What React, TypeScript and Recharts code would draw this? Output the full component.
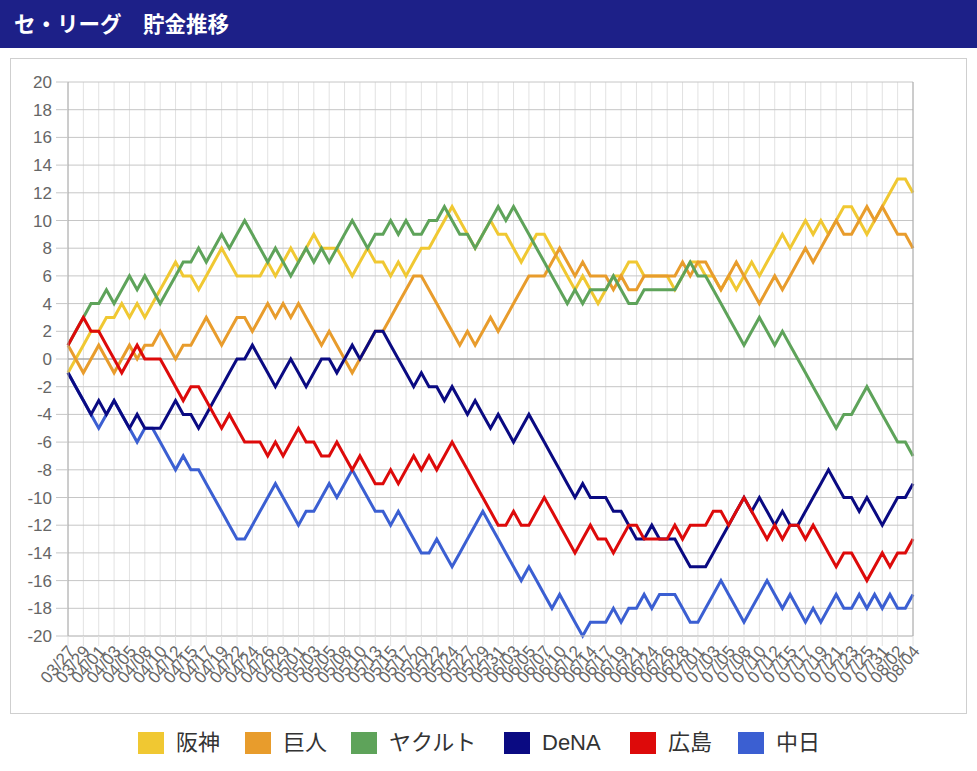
import React from "react";
import { LineChart, Line, XAxis, YAxis, CartesianGrid, ReferenceLine } from "recharts";

const dates = [
  "03/27","03/28","03/29","03/31","04/01","04/02","04/03","04/04","04/05","04/07",
  "04/08","04/09","04/10","04/11","04/12","04/14","04/15","04/16","04/17","04/18",
  "04/19","04/21","04/22","04/23","04/24","04/25","04/26","04/28","04/29","04/30",
  "05/01","05/02","05/03","05/04","05/05","05/06","05/08","05/09","05/10","05/12",
  "05/13","05/14","05/15","05/16","05/17","05/19","05/20","05/21","05/22","05/23",
  "05/24","05/26","05/27","05/28","05/29","05/30","05/31","06/02","06/03","06/04",
  "06/05","06/06","06/07","06/09","06/10","06/11","06/12","06/13","06/14","06/16",
  "06/17","06/18","06/19","06/20","06/21","06/23","06/24","06/25","06/26","06/27",
  "06/28","06/30","07/01","07/02","07/03","07/04","07/05","07/07","07/08","07/09",
  "07/10","07/11","07/12","07/14","07/15","07/16","07/17","07/18","07/19","07/20",
  "07/21","07/22","07/23","07/24","07/25","07/26","07/31","08/01","08/02","08/03","08/04",
];

const hanshin = [
  -1,0,1,2,2,3,3,4,3,4,
  3,4,5,6,7,6,6,5,6,7,
  8,7,6,6,6,6,7,6,7,8,
  7,8,9,8,8,8,7,6,7,8,
  7,7,6,7,6,7,8,8,9,10,
  11,10,9,8,9,10,9,9,8,7,
  8,9,9,8,7,6,5,6,5,4,
  5,6,6,7,7,6,6,6,6,5,
  6,7,7,6,6,5,6,5,6,7,
  6,7,8,9,8,9,10,9,10,9,
  10,11,11,10,9,10,11,12,13,13,12,
];

const giants = [
  1,0,-1,0,1,0,-1,0,1,0,
  1,1,2,1,0,1,1,2,3,2,
  1,2,3,3,2,3,4,3,4,3,
  4,3,2,1,2,1,0,-1,0,1,
  2,2,3,4,5,6,6,5,4,3,
  2,1,2,1,2,3,2,3,4,5,
  6,6,6,7,8,7,6,7,6,6,
  6,5,6,5,5,6,6,6,6,6,
  7,6,7,7,6,5,6,7,6,5,
  4,5,6,5,6,7,8,7,8,9,
  10,9,9,10,11,10,11,10,9,9,8,
];

const yakult = [
  1,2,3,4,4,5,4,5,6,5,
  6,5,4,5,6,7,7,8,7,8,
  9,8,9,10,9,8,7,8,7,6,
  7,8,7,8,7,8,9,10,9,8,
  9,9,10,9,10,9,9,10,10,11,
  10,9,9,8,9,10,11,10,11,10,
  9,8,7,6,5,4,5,4,5,5,
  5,6,5,4,4,5,5,5,5,5,
  6,7,6,6,5,4,3,2,1,2,
  3,2,1,2,1,0,-1,-2,-3,-4,
  -5,-4,-4,-3,-2,-3,-4,-5,-6,-6,-7,
];

const dena = [
  -1,-2,-3,-4,-3,-4,-3,-4,-5,-4,
  -5,-5,-5,-4,-3,-4,-4,-5,-4,-3,
  -2,-1,0,0,1,0,-1,-2,-1,0,
  -1,-2,-1,0,0,-1,0,1,0,1,
  2,2,1,0,-1,-2,-1,-2,-2,-3,
  -2,-3,-4,-3,-4,-5,-4,-5,-6,-5,
  -4,-5,-6,-7,-8,-9,-10,-9,-10,-10,
  -10,-11,-11,-12,-13,-13,-12,-13,-13,-13,
  -14,-15,-15,-15,-14,-13,-12,-11,-10,-11,
  -10,-11,-12,-11,-12,-12,-11,-10,-9,-8,
  -9,-10,-10,-11,-10,-11,-12,-11,-10,-10,-9,
];

const hiroshima = [
  1,2,3,2,2,1,0,-1,0,1,
  0,0,0,-1,-2,-3,-2,-2,-3,-4,
  -5,-4,-5,-6,-6,-6,-7,-6,-7,-6,
  -5,-6,-6,-7,-7,-6,-7,-8,-7,-8,
  -9,-9,-8,-9,-8,-7,-8,-7,-8,-7,
  -6,-7,-8,-9,-10,-11,-12,-12,-11,-12,
  -12,-11,-10,-11,-12,-13,-14,-13,-12,-13,
  -13,-14,-13,-12,-12,-13,-13,-13,-13,-12,
  -13,-12,-12,-12,-11,-11,-12,-11,-10,-11,
  -12,-13,-12,-13,-12,-12,-13,-12,-13,-14,
  -15,-14,-14,-15,-16,-15,-14,-15,-14,-14,-13,
];

const chunichi = [
  -1,-2,-3,-4,-5,-4,-3,-4,-5,-6,
  -5,-5,-6,-7,-8,-7,-8,-8,-9,-10,
  -11,-12,-13,-13,-12,-11,-10,-9,-10,-11,
  -12,-11,-11,-10,-9,-10,-9,-8,-9,-10,
  -11,-11,-12,-11,-12,-13,-14,-14,-13,-14,
  -15,-14,-13,-12,-11,-12,-13,-14,-15,-16,
  -15,-16,-17,-18,-17,-18,-19,-20,-19,-19,
  -19,-18,-19,-18,-18,-17,-18,-17,-17,-17,
  -18,-19,-19,-18,-17,-16,-17,-18,-19,-18,
  -17,-16,-17,-18,-17,-18,-19,-18,-19,-18,
  -17,-18,-18,-17,-18,-17,-18,-17,-18,-18,-17,
];

const yTicks = [-20, -18, -16, -14, -12, -10, -8, -6, -4, -2, 0, 2, 4, 6, 8, 10, 12, 14, 16, 18, 20];

const teams = [
  { key: "hanshin", name: "阪神", color: "#f0c832", values: hanshin },
  { key: "giants", name: "巨人", color: "#e89c2c", values: giants },
  { key: "yakult", name: "ヤクルト", color: "#5ea35a", values: yakult },
  { key: "dena", name: "DeNA", color: "#0a0a82", values: dena },
  { key: "hiroshima", name: "広島", color: "#dd0a0a", values: hiroshima },
  { key: "chunichi", name: "中日", color: "#3b5fd2", values: chunichi },
];

const drawOrder = ["chunichi", "hanshin", "giants", "yakult", "dena", "hiroshima"];

const legendPos = [138, 245, 351, 504, 630, 738];

const data = dates.map((d, i) => {
  const row: Record<string, string | number> = { date: d };
  teams.forEach((t) => {
    row[t.key] = t.values[i];
  });
  return row;
});

const FONT = '"Liberation Sans", "Noto Sans CJK JP", sans-serif';

const XTick = (props: any) => {
  const { x, y, payload } = props;
  return (
    <text
      x={x + 3}
      y={y}
      transform={`rotate(-50 ${x + 3} ${y})`}
      textAnchor="end"
      dy="0.35em"
      fontSize={17}
      fill="#666"
      fontFamily={FONT}
    >
      {payload.value}
    </text>
  );
};

export default function App() {
  return (
    <div
      style={{
        position: "absolute",
        left: 0,
        top: 0,
        width: 977,
        height: 771,
        background: "#fff",
        fontFamily: FONT,
        overflow: "hidden",
      }}
    >
      <div
        style={{
          position: "absolute",
          left: 0,
          top: 0,
          width: 977,
          height: 48,
          background: "#1d2088",
        }}
      >
        <span
          style={{
            position: "absolute",
            left: 14,
            top: 9,
            color: "#fff",
            fontSize: 21.5,
            fontWeight: "bold",
            lineHeight: "28px",
            fontFamily: '"Noto Sans CJK JP", sans-serif',
            whiteSpace: "pre",
          }}
        >
          セ・リーグ　貯金推移
        </span>
      </div>
      <div
        style={{
          position: "absolute",
          left: 10,
          top: 58,
          width: 957,
          height: 656,
          border: "1px solid #cfcfcf",
          boxSizing: "border-box",
        }}
      />
      <div style={{ position: "absolute", left: 0, top: 0 }}>
        <LineChart
          width={977}
          height={771}
          data={data}
          margin={{ top: 82, right: 10, bottom: 75, left: 10 }}
        >
          <CartesianGrid
            yAxisId="left"
            horizontal={false}
            vertical={true}
            stroke="#e2e2e2"
            syncWithTicks
          />
          <CartesianGrid
            yAxisId="left"
            horizontal={true}
            vertical={false}
            stroke="#c6c6c6"
          />
          <XAxis
            dataKey="date"
            interval={1}
            tickSize={10}
            tickMargin={2}
            height={60}
            tickLine={{ stroke: "#e2e2e2" }}
            axisLine={{ stroke: "#c6c6c6" }}
            tick={<XTick />}
          />
          <YAxis
            yAxisId="left"
            orientation="left"
            domain={[-20, 20]}
            ticks={yTicks}
            interval={0}
            width={58}
            tickSize={12}
            tickMargin={4}
            axisLine={{ stroke: "#a8a8a8" }}
            tickLine={{ stroke: "#c6c6c6" }}
            tick={{ fontSize: 17, fill: "#666", fontFamily: FONT }}
          />
          <YAxis
            yAxisId="right"
            orientation="right"
            domain={[-20, 20]}
            ticks={yTicks}
            interval={0}
            width={54}
            tickSize={11}
            tickMargin={4}
            axisLine={{ stroke: "#a8a8a8" }}
            tickLine={{ stroke: "#c6c6c6" }}
            tick={{ fontSize: 17, fill: "#666", fontFamily: FONT, textAnchor: "start" }}
          />
          <ReferenceLine yAxisId="left" y={0} stroke="#9a9a9a" />
          {drawOrder.map((k) => {
            const t = teams.find((tt) => tt.key === k)!;
            return (
              <Line
                key={t.key}
                yAxisId="left"
                type="linear"
                dataKey={t.key}
                name={t.name}
                stroke={t.color}
                strokeWidth={3}
                dot={false}
                activeDot={false}
                isAnimationActive={false}
              />
            );
          })}
        </LineChart>
      </div>
      {teams.map((t, i) => (
        <React.Fragment key={t.key}>
          <div
            style={{
              position: "absolute",
              left: legendPos[i],
              top: 732,
              width: 26,
              height: 22,
              background: t.color,
            }}
          />
          <div
            style={{
              position: "absolute",
              left: legendPos[i] + 38,
              top: 728,
              fontSize: 22,
              lineHeight: "30px",
              color: "#333",
              whiteSpace: "nowrap",
              fontFamily: FONT,
            }}
          >
            {t.name}
          </div>
        </React.Fragment>
      ))}
    </div>
  );
}
